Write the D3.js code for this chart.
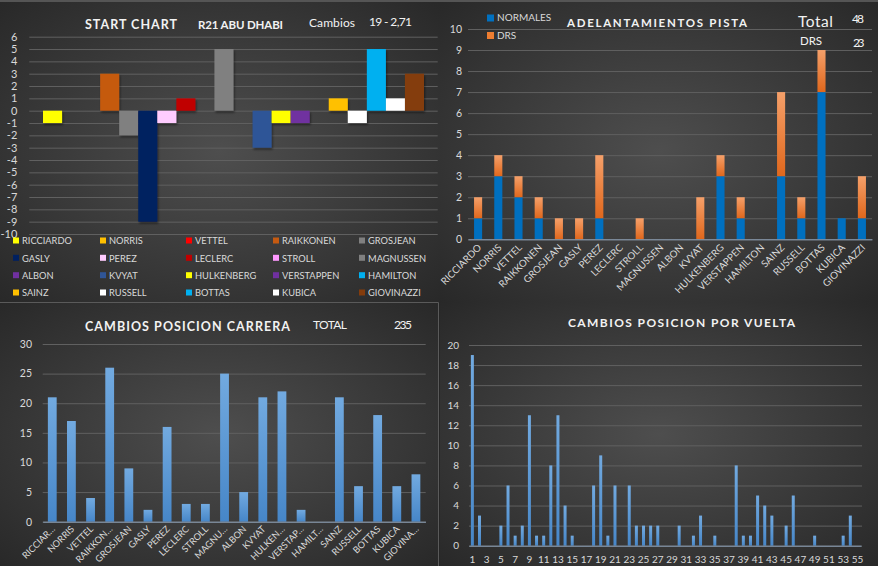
<!DOCTYPE html>
<html><head><meta charset="utf-8">
<script src="https://cdn.jsdelivr.net/npm/d3@7"></script>
<style>
body{margin:0;background:#262626;}
svg text{font-family:Lato,"Open Sans",sans-serif;}
</style></head>
<body><svg id="c" width="878" height="566"></svg>
<script>
const drivers = ["RICCIARDO","NORRIS","VETTEL","RAIKKONEN","GROSJEAN","GASLY","PEREZ","LECLERC","STROLL","MAGNUSSEN","ALBON","KVYAT","HULKENBERG","VERSTAPPEN","HAMILTON","SAINZ","RUSSELL","BOTTAS","KUBICA","GIOVINAZZI"];
const driverColors = ["#FFFF00","#FFC000","#FF0000","#C55A11","#808080","#002060","#FFCCFF","#C00000","#FF99FF","#808080","#7030A0","#2F5597","#FFFF00","#7030A0","#00B0F0","#FFC000","#FFFFFF","#00B0F0","#FFFFFF","#843C0C"];
const startChange = [-1,0,0,3,-2,-9,-1,1,0,5,0,-3,-1,-1,0,1,-1,5,1,3];
const startTicks = [6,5,4,3,2,1,0,-1,-2,-3,-4,-5,-6,-7,-8,-9,-10];

const normales = [1,3,2,1,0,0,1,0,0,0,0,0,3,1,0,3,1,7,1,1];
const drs      = [1,1,1,1,1,1,3,0,1,0,0,2,1,1,0,4,1,2,0,2];
const overtakeTicks = [0,1,2,3,4,5,6,7,8,9,10];

const raceLabels = ["RICCIAR…","NORRIS","VETTEL","RAIKKON…","GROSJEAN","GASLY","PEREZ","LECLERC","STROLL","MAGNU…","ALBON","KVYAT","HULKEN…","VERSTAP…","HAMILT…","SAINZ","RUSSELL","BOTTAS","KUBICA","GIOVINA…"];
const raceChanges = [21,17,4,26,9,2,16,3,3,25,5,21,22,2,0,21,6,18,6,8];
const raceTicks = [0,5,10,15,20,25,30];

const laps = [1,2,3,4,5,6,7,8,9,10,11,12,13,14,15,16,17,18,19,20,21,22,23,24,25,26,27,28,29,30,31,32,33,34,35,36,37,38,39,40,41,42,43,44,45,46,47,48,49,50,51,52,53,54,55];
const lapChanges = [19,3,0,0,2,6,1,2,13,1,1,8,13,4,1,0,0,6,9,1,6,0,6,2,2,2,2,0,0,2,0,1,3,0,1,0,0,8,1,1,5,4,3,0,2,5,0,0,1,0,0,0,1,3,0];
const lapTicks = [0,2,4,6,8,10,12,14,16,18,20];
const lapLabelTicks = [1,3,5,7,9,11,13,15,17,19,21,23,25,27,29,31,33,35,37,39,41,43,45,47,49,51,53,55];

const svg = d3.select("#c");
const defs = svg.append("defs");
const bg = defs.append("radialGradient").attr("id","bg").attr("cx","50%").attr("cy","50%").attr("r","75%");
bg.append("stop").attr("offset","0%").attr("stop-color","#4e4e4e");
bg.append("stop").attr("offset","100%").attr("stop-color","#262626");
function vgrad(id, top, bottom){
  const g = defs.append("linearGradient").attr("id",id).attr("x1",0).attr("y1",0).attr("x2",0).attr("y2",1);
  g.append("stop").attr("offset","0%").attr("stop-color",top);
  g.append("stop").attr("offset","100%").attr("stop-color",bottom);
}
vgrad("gBlue","#72aae0","#4686c8");
vgrad("gOrange","#f5a06a","#e0671c");
const sh = defs.append("filter").attr("id","sh").attr("x","-20%").attr("y","-20%").attr("width","150%").attr("height","150%");
sh.append("feDropShadow").attr("dx",1).attr("dy",2).attr("stdDeviation",1.2).attr("flood-color","#000").attr("flood-opacity",0.45);

// panels
const panels = [[0,0,440,302],[440,0,438,302],[0,302,439,264],[440,302,438,264]];
svg.selectAll("rect.panel").data(panels).join("rect").attr("class","panel")
  .attr("x",d=>d[0]).attr("y",d=>d[1]).attr("width",d=>d[2]).attr("height",d=>d[3]).attr("fill","url(#bg)");
svg.append("rect").attr("x",0).attr("y",0).attr("width",878).attr("height",2).attr("fill","#555");
svg.append("path").attr("d","M0,302.5H438.5V566").attr("fill","none").attr("stroke","#5a5a5a").attr("stroke-width",1);

const gridColor = "#606060", labColor = "#d9d9d9";

function yGrid(y, ticks, x0, x1, pad, size){
  const g = svg.append("g").attr("transform",`translate(${x0},0)`)
    .call(d3.axisLeft(y).tickValues(ticks).tickFormat(d=>String(d)).tickSize(-(x1-x0)).tickPadding(pad));
  g.select(".domain").remove();
  g.selectAll(".tick line").attr("stroke",gridColor).attr("stroke-width",1);
  g.selectAll(".tick text").attr("fill",labColor).style("font-size",size+"px").style("font-family","Lato");
  return g;
}
function title(txt, x, y, len, size, weight){
  const t = svg.append("text").attr("x",x).attr("y",y).text(txt).attr("fill","#f2f2f2")
    .style("font-size",size+"px").style("font-weight",weight||"normal");
  if(len) t.attr("textLength",len).attr("lengthAdjust","spacing");
  return t;
}

// ---------- START CHART ----------
{
  const y = d3.scaleLinear().domain([-10,6]).range([234,36.7]);
  const x = d3.scaleBand().domain(drivers).range([43,424]).padding(0);
  yGrid(y, startTicks, 29.3, 437.7, 12, 11);
  svg.append("g").attr("filter","url(#sh)").selectAll("rect").data(drivers).join("rect")
    .attr("x",d=>x(d)).attr("width",x.bandwidth())
    .attr("y",(d,i)=>y(Math.max(0,startChange[i])))
    .attr("height",(d,i)=>Math.abs(y(startChange[i])-y(0)))
    .attr("fill",(d,i)=>driverColors[i]);
  title("START CHART",85,29.3,92,12.5,"bold");
  title("R21 ABU DHABI",198,28.5,85,11.5,"bold");
  title("Cambios",309,26.5,46,12);
  title("19 - 2,71",369,26,43,12);
  const lg = svg.append("g");
  const colX = [13,100,186,273,359], rowY = [241,258.3,275.7,293];
  drivers.forEach((d,i)=>{
    const cx = colX[i%5], cy = rowY[Math.floor(i/5)];
    lg.append("rect").attr("x",cx).attr("y",cy-3.5).attr("width",6).attr("height",6).attr("fill",driverColors[i]);
    lg.append("text").attr("x",cx+9).attr("y",cy+3.3).text(d).attr("fill",labColor).style("font-size","9.3px");
  });
}

// ---------- ADELANTAMIENTOS PISTA ----------
{
  const y = d3.scaleLinear().domain([0,10]).range([239.3,29]);
  const x = d3.scaleBand().domain(drivers).range([468,872]).paddingInner(0.6).paddingOuter(0.3);
  yGrid(y, overtakeTicks, 468, 872, 6, 10.5);
  const g = svg.append("g");
  g.selectAll("rect.n").data(drivers).join("rect").attr("class","n")
    .attr("x",d=>x(d)).attr("width",x.bandwidth())
    .attr("y",(d,i)=>y(normales[i])).attr("height",(d,i)=>y(0)-y(normales[i])).attr("fill","#0070C0");
  g.selectAll("rect.d").data(drivers).join("rect").attr("class","d")
    .attr("x",d=>x(d)).attr("width",x.bandwidth())
    .attr("y",(d,i)=>y(normales[i]+drs[i])).attr("height",(d,i)=>y(normales[i])-y(normales[i]+drs[i]))
    .attr("fill","url(#gOrange)");
  const ax = svg.append("g").attr("transform","translate(0,239.3)").call(d3.axisBottom(x).tickSize(0));
  ax.select(".domain").attr("stroke","#8a9fb5");
  ax.selectAll("text").attr("fill",labColor).style("font-size","9.8px").attr("dy",null).attr("y",0)
    .attr("transform",`translate(${x.bandwidth()/2+0},9) rotate(-45)`).style("text-anchor","end");
  title("ADELANTAMIENTOS PISTA",567,27.3,180,11.5,"bold");
  title("Total",798,26.5,35,15.5);
  title("48",852,23.3,12,12);
  title("DRS",800,45,22,11.5);
  title("23",853,47.3,11.5,12);
  svg.append("rect").attr("x",487).attr("y",14.5).attr("width",7).attr("height",7).attr("fill","#0070C0");
  svg.append("text").attr("x",497).attr("y",21).text("NORMALES").attr("fill",labColor).style("font-size","10px");
  svg.append("rect").attr("x",487).attr("y",32).attr("width",7).attr("height",7).attr("fill","#ED7D31");
  svg.append("text").attr("x",497).attr("y",38.5).text("DRS").attr("fill",labColor).style("font-size","10px");
}

// ---------- CAMBIOS POSICION CARRERA ----------
{
  const y = d3.scaleLinear().domain([0,30]).range([521.7,344]);
  const x = d3.scaleBand().domain(raceLabels).range([42.7,425.5]).paddingInner(0.54).paddingOuter(0.27);
  yGrid(y, raceTicks, 42.7, 425.7, 10.7, 10.5);
  svg.append("g").selectAll("rect").data(raceLabels).join("rect")
    .attr("x",d=>x(d)).attr("width",x.bandwidth())
    .attr("y",(d,i)=>y(raceChanges[i])).attr("height",(d,i)=>y(0)-y(raceChanges[i]))
    .attr("fill","url(#gBlue)");
  const ax = svg.append("g").attr("transform","translate(0,521.7)").call(d3.axisBottom(x).tickSize(0));
  ax.select(".domain").attr("stroke","#8a9fb5");
  ax.selectAll("text").attr("fill",labColor).style("font-size","9.2px").attr("dy",null).attr("y",0)
    .attr("transform",`translate(${x.bandwidth()/2-1},8) rotate(-45)`).style("text-anchor","end");
  title("CAMBIOS POSICION CARRERA",85,330.7,205,12.5,"bold");
  title("TOTAL",313,329,34,12);
  title("235",394,329,18,12);
}

// ---------- CAMBIOS POSICION POR VUELTA ----------
{
  const y = d3.scaleLinear().domain([0,20]).range([545.7,345]);
  const x = d3.scaleBand().domain(laps).range([468.8,861]).paddingInner(0.58).paddingOuter(0.29);
  yGrid(y, lapTicks, 469, 862, 10, 10);
  svg.append("g").selectAll("rect").data(laps).join("rect")
    .attr("x",d=>x(d)).attr("width",x.bandwidth())
    .attr("y",(d,i)=>y(lapChanges[i])).attr("height",(d,i)=>y(0)-y(lapChanges[i]))
    .attr("fill","url(#gBlue)");
  const ax = svg.append("g").attr("transform","translate(0,545.7)").call(d3.axisBottom(x).tickValues(lapLabelTicks).tickSize(0));
  ax.select(".domain").attr("stroke","#8a9fb5");
  ax.selectAll("text").attr("fill",labColor).style("font-size","10px").attr("dy",null).attr("y",17);
  title("CAMBIOS POSICION POR VUELTA",568,326.7,227,12,"bold");
}
</script></body></html>
